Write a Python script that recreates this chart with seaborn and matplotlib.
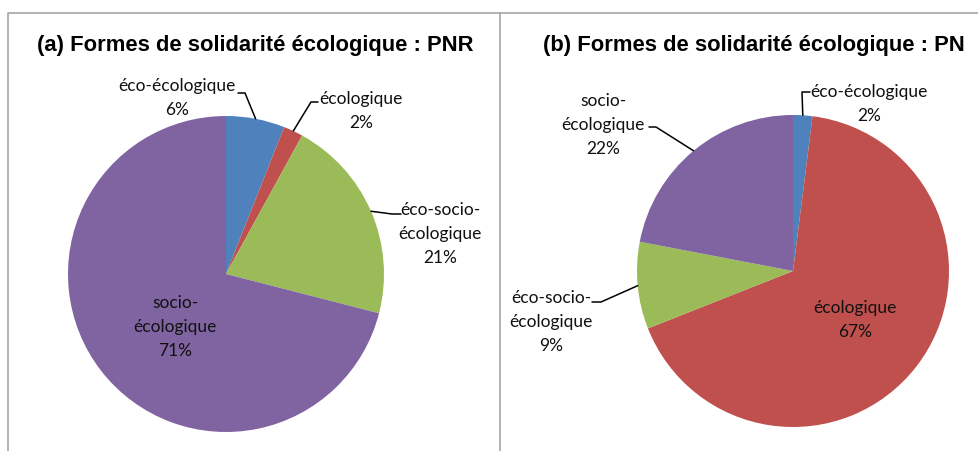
import numpy as np
import matplotlib
matplotlib.use("Agg")
import matplotlib.pyplot as plt
import seaborn as sns

# data
categories = ["éco-écologique", "écologique", "éco-socio-écologique", "socio-écologique"]
label_text = ["éco-écologique", "écologique", "éco-socio-\nécologique", "socio-\nécologique"]
pnr_values = [6, 2, 21, 71]
pn_values = [2, 67, 9, 22]
titles = ["(a) Formes de solidarité écologique : PNR", "(b) Formes de solidarité écologique : PN"]
colors = ["#4F81BD", "#C0504D", "#9BBB59", "#8064A2"]

W, H = 979, 452

sns.set_theme(style="white")
plt.rcParams["font.family"] = ["Lato", "DejaVu Sans"]

fig = plt.figure(figsize=(W / 100, H / 100), dpi=100)
ax = fig.add_axes([0, 0, 1, 1])
ax.set_xlim(0, W)
ax.set_ylim(0, H)
ax.set_aspect("equal")
ax.axis("off")


def fy(y):
    # pixel row -> data y
    return H - y


# panel borders
border = "#a6a6a6"
ax.plot([8, 8, 500, 500], [fy(460), fy(14), fy(14), fy(460)], color=border, lw=1.2, clip_on=False)
ax.plot([500, 990], [fy(14), fy(14)], color=border, lw=1.2, clip_on=False)

# panel layout: pie centre, radius, title position, label placements
panels = [
    dict(values=pnr_values, center=(226, 275), radius=158, title_x=255, title_ha="center",
         labels=[  # text pos, line end next to text, elbow; or inside the slice
             dict(pos=(177, 98), end=(238, 94), elbow=(245, 94)),
             dict(pos=(361, 111), end=(318, 103), elbow=(311, 103)),
             dict(pos=(440, 234), end=(401, 215), elbow=(392, 215)),
             dict(pos=(175, 327), inside=True),
         ]),
    dict(values=pn_values, center=(793, 272), radius=156, title_x=543, title_ha="left",
         labels=[
             dict(pos=(869, 104), end=(810, 93), elbow=(802, 93)),
             dict(pos=(855, 320), inside=True),
             dict(pos=(551, 322), end=(592, 303), elbow=(601, 303)),
             dict(pos=(603, 125), end=(649, 128), elbow=(656, 128)),
         ]),
]

for i, p in enumerate(panels):
    cx, cy = p["center"]
    r = p["radius"]
    vals = p["values"]
    ax.pie(vals, colors=colors, startangle=90, counterclock=False,
           center=(cx, fy(cy)), radius=r, frame=True,
           wedgeprops=dict(linewidth=0))

    ax.text(p["title_x"], fy(46), titles[i], ha=p["title_ha"], va="center",
            fontsize=15.8, fontweight="bold", family=["Liberation Sans", "DejaVu Sans"],
            color="black", clip_on=False)

    total = float(sum(vals))
    cum = np.cumsum([0] + vals)
    for j, lab in enumerate(p["labels"]):
        txt = f"{label_text[j]}\n{vals[j]}%"
        x, y = lab["pos"]
        ax.text(x, fy(y), txt, ha="center", va="center", fontsize=12.5,
                linespacing=1.6, color="#111111")
        if lab.get("inside"):
            continue
        # anchor on the wedge edge at the middle of the slice
        mid = (cum[j] + vals[j] / 2) / total * 2 * np.pi
        axx = cx + r * np.sin(mid)
        axy = cy - r * np.cos(mid)
        ex, ey = lab["end"]
        bx, by = lab["elbow"]
        ax.plot([ex, bx, axx], [fy(ey), fy(by), fy(axy)], color="black", lw=1.1)

ax.set_xlim(0, W)
ax.set_ylim(0, H)

fig.savefig("out.png", dpi=100, facecolor="white")
